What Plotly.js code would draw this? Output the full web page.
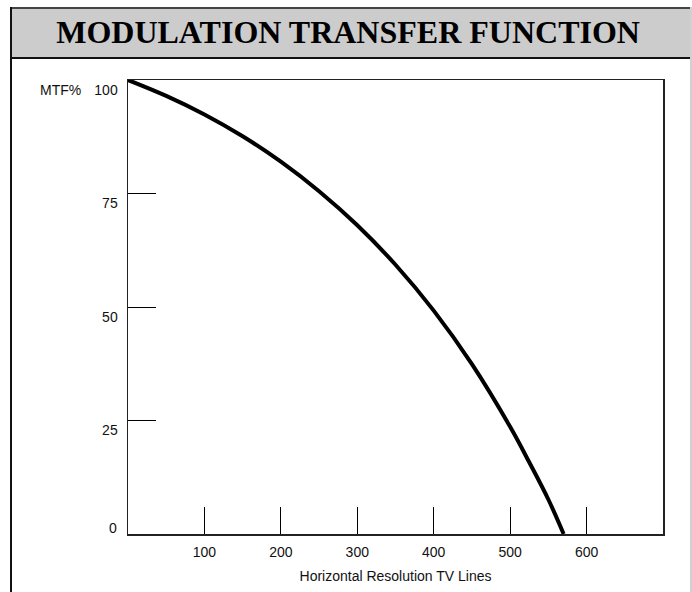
<!DOCTYPE html>
<html>
<head>
<meta charset="utf-8">
<script src="https://cdn.plot.ly/plotly-3.0.1.min.js"></script>
<style>
  html, body { margin: 0; padding: 0; background: #ffffff; }
  #wrap { position: relative; width: 692px; height: 592px; overflow: hidden; background: #ffffff; }
  .f { position: absolute; }
  #plot { position: absolute; left: 0; top: 0; width: 692px; height: 592px; }
</style>
</head>
<body>
<div id="wrap">
  <div class="f" style="left:10px; top:7px; width:682px; height:2px; background:#444;"></div>
  <div class="f" style="left:12px; top:9px; width:680px; height:48px; background:#cccccc;"></div>
  <div class="f" style="left:10px; top:57px; width:682px; height:2px; background:#111;"></div>
  <div class="f" style="left:10px; top:7px; width:2px; height:585px; background:#111;"></div>
  <div class="f" style="left:690px; top:7px; width:2px; height:585px; background:#d0d0d0;"></div>
  <div id="plot"></div>
</div>
<script>
const titleText = "MODULATION TRANSFER FUNCTION";
const xTitle = "Horizontal Resolution TV Lines";
const yLabelUnit = "MTF%";

const tvLines = [0, 50, 100, 150, 200, 250, 300, 350, 400, 450, 500, 525, 550, 570];
const mtfPercent = [100, 96.5, 92.4, 87.6, 82.0, 75.5, 68.0, 59.3, 49.2, 37.4, 23.6, 15.8, 7.6, 0];

const xTickVals = [100, 200, 300, 400, 500, 600];
const xTickText = ["100", "200", "300", "400", "500", "600"];
const yTickVals = [25, 50, 75, 100];
const yTickText = ["25", "50", "75", "100"];
const yZeroLabel = "0";

const axisFont = {family: "Liberation Sans, Arial, sans-serif", size: 14, color: "#111"};

const trace = {
  x: tvLines,
  y: mtfPercent,
  type: "scatter",
  mode: "lines",
  line: {color: "#000", width: 4, shape: "spline", smoothing: 1},
  hoverinfo: "skip"
};

const layout = {
  width: 692,
  height: 592,
  margin: {l: 128, r: 29, t: 80, b: 58},
  paper_bgcolor: "rgba(0,0,0,0)",
  plot_bgcolor: "#ffffff",
  showlegend: false,
  title: {
    text: titleText,
    font: {family: "Liberation Serif, Times New Roman, serif", size: 32, color: "#000", weight: "bold"},
    xref: "container", x: 0.503, xanchor: "center",
    yref: "container", y: 0.946, yanchor: "middle"
  },
  xaxis: {
    range: [0, 700],
    tickvals: xTickVals,
    ticktext: xTickText,
    ticks: "inside",
    ticklen: 27,
    tickwidth: 1,
    tickcolor: "#000",
    ticklabelstandoff: 5,
    showgrid: false,
    zeroline: false,
    showline: true,
    mirror: true,
    linecolor: "#222",
    linewidth: 1.5,
    tickfont: axisFont,
    title: {text: xTitle, font: axisFont, standoff: 12}
  },
  yaxis: {
    range: [0, 100],
    tickvals: yTickVals,
    ticktext: yTickText,
    ticks: "inside",
    ticklen: 28,
    tickwidth: 1,
    tickcolor: "#000",
    ticklabelshift: 10,
    ticklabelstandoff: 6,
    showgrid: false,
    zeroline: false,
    showline: true,
    mirror: true,
    linecolor: "#222",
    linewidth: 1.5,
    tickfont: axisFont
  },
  annotations: [
    {text: yZeroLabel, xref: "paper", yref: "y", x: 0, y: 0, xanchor: "right", yanchor: "middle",
     xshift: -9, yshift: 6, showarrow: false, font: axisFont},
    {text: yLabelUnit, xref: "paper", yref: "y", x: 0, y: 100, xanchor: "right", yanchor: "middle",
     xshift: -45, yshift: -10, showarrow: false, font: axisFont}
  ]
};

Plotly.newPlot("plot", [trace], layout, {staticPlot: true, displayModeBar: false});
</script>
</body>
</html>
